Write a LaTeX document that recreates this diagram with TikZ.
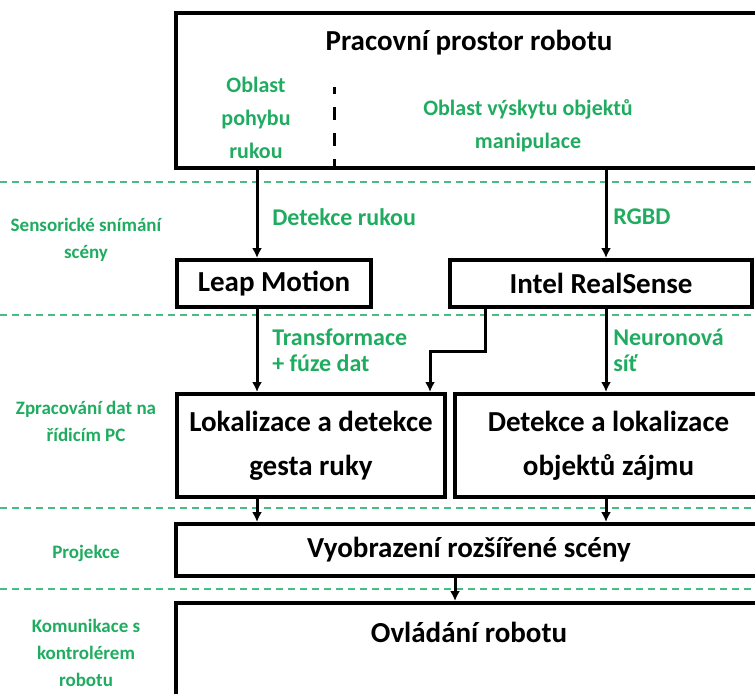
\documentclass[tikz,border=0pt]{standalone}
\usepackage{fontspec}
\setmainfont{Carlito}
\usepackage{tikz}
\usetikzlibrary{arrows.meta}
\definecolor{stagegreen}{RGB}{32,172,96}
\definecolor{sepgreen}{RGB}{72,188,130}

\begin{document}
\begin{tikzpicture}[
  x=0.75pt, y=-0.75pt,
  blok/.style={
    draw,
    line width=3pt,
    outer sep=1.5pt,
    inner sep=0pt
  },
  maintext/.style={
    font=\fontsize{21.75}{33}\selectfont\bfseries,
    align=center
  },
  areatext/.style={
    text=stagegreen,
    font=\fontsize{16.5}{24.5}\selectfont\bfseries,
    align=center,
    inner sep=0pt
  },
  flowtext/.style={
    text=stagegreen,
    font=\fontsize{18}{19.5}\selectfont\bfseries,
    align=left,
    anchor=west,
    inner sep=0pt
  },
  stagetext/.style={
    text=stagegreen,
    font=\fontsize{14.25}{20.25}\selectfont\bfseries,
    align=center,
    inner sep=0pt
  },
  arr/.style={
    line width=2.25pt,
    -{Latex[length=7.5pt,width=7.5pt]}
  },
  sep/.style={
    sepgreen,
    line width=1.5pt,
    dash pattern=on 5.25pt off 3.75pt
  }
]
\useasboundingbox (0,0) rectangle (755,693);
\clip (0,0) rectangle (755,693);
\foreach \y in {182,315,508,589}
  \draw[sep] (0,\y) -- (755,\y);

\node[blok, minimum width=439.5pt, minimum height=116.25pt] (ws) at (469,90.5) {};
\node[maintext, inner sep=0pt] (wstitle) at (469,43) {Pracovní prostor robotu};
\node[areatext] (handarea) at (256,118) {Oblast\\pohybu\\rukou};
\node[areatext] (objarea) at (528,126) {Oblast výskytu objektů\\manipulace};
\coordinate (dv) at (334,87);
\draw[line width=2.25pt, dash pattern=on 9.75pt off 9.75pt, dash phase=4.5pt] (dv) -- (ws.south -| dv);

\node[blok, maintext, minimum width=145.5pt, minimum height=35.25pt] (leap) at (274,283.5) {Leap Motion};
\node[blok, maintext, minimum width=226.5pt, minimum height=35.25pt] (intel) at (601,283.5) {Intel RealSense};
\node[blok, maintext, minimum width=201pt, minimum height=77.25pt] (lok) at (311,445.5) {Lokalizace a detekce\\gesta ruky};
\node[blok, maintext, minimum width=230.25pt, minimum height=77.25pt] (det) at (608.5,445.5) {Detekce a lokalizace\\objektů zájmu};
\node[blok, maintext, minimum width=439.5pt, minimum height=39pt] (vyo) at (469,550) {Vyobrazení rozšířené scény};
\node[blok, minimum width=439.5pt, minimum height=87.75pt] (ovl) at (469,661.5) {};
\node[maintext, inner sep=0pt] (ovltext) at (469,632) {Ovládání robotu};

\node[flowtext] (l1) at (272,217) {Detekce rukou};
\node[flowtext] (l2) at (613,217) {RGBD};
\node[flowtext] (l3) at (272,350) {Transformace\\+ fúze dat};
\node[flowtext] (l4) at (613,350) {Neuronová\\síť};

\node[stagetext] (s1) at (86,239.5) {Sensorické snímání\\scény};
\node[stagetext] (s2) at (86,421.5) {Zpracování dat na\\řídicím PC};
\node[stagetext] (s3) at (86,553) {Projekce};
\node[stagetext] (s4) at (86,652.5) {Komunikace s\\kontrolérem\\robotu};

\coordinate (hL) at (257,0);
\coordinate (oR) at (606,0);
\coordinate (pC) at (455,0);
\coordinate (fA) at (485,351);
\coordinate (fB) at (430,351);
\draw[arr] (ws.south -| hL) -- (leap.north -| hL);
\draw[arr] (ws.south -| oR) -- (intel.north -| oR);
\draw[arr] (leap.south -| hL) -- (lok.north -| hL);
\draw[arr] (intel.south -| fA) -- (fA) -- (fB) -- (lok.north -| fB);
\draw[arr] (intel.south -| oR) -- (det.north -| oR);
\draw[arr] (lok.south -| hL) -- (vyo.north -| hL);
\draw[arr] (det.south -| oR) -- (vyo.north -| oR);
\draw[arr] (vyo.south -| pC) -- (ovl.north -| pC);
\end{tikzpicture}
\end{document}
